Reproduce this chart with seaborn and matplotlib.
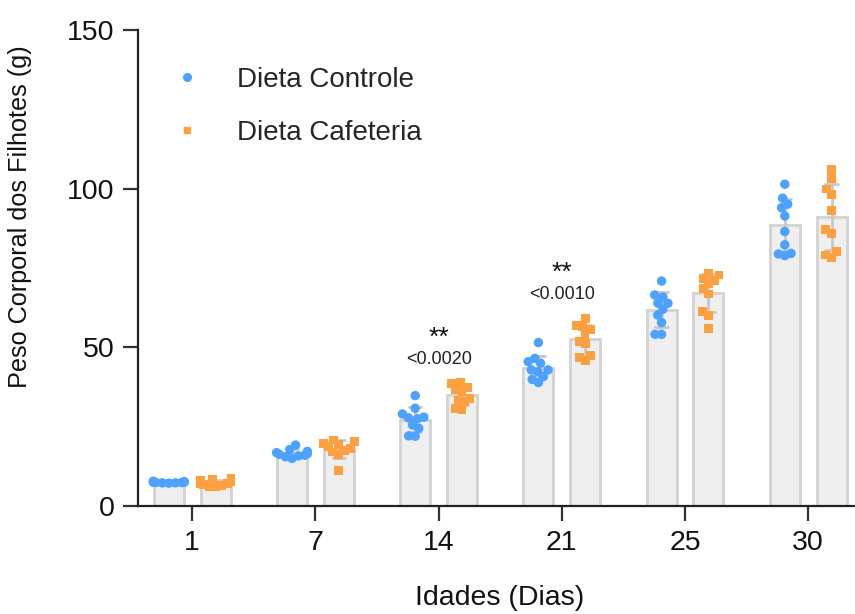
import numpy as np
import pandas as pd
import matplotlib
matplotlib.use('Agg')
import matplotlib.pyplot as plt
from matplotlib.lines import Line2D
import seaborn as sns

# --- Data ---
dias = ['1', '7', '14', '21', '25', '30']
grupos = ['Dieta Controle', 'Dieta Cafeteria']

controle = [
    [7.8, 7.6, 7.5, 7.4, 7.3, 7.2, 7.5, 7.7, 7.4, 7.3],
    [19.2, 17.8, 17.2, 16.8, 16.5, 16.3, 16.0, 15.8, 15.5, 15.0],
    [34.8, 30.8, 29.0, 28.0, 27.8, 27.5, 25.5, 24.5, 22.1, 22.0],
    [51.5, 46.5, 45.5, 45.0, 42.9, 42.9, 42.3, 40.8, 39.9, 38.9],
    [70.9, 66.5, 65.8, 63.9, 63.9, 62.0, 60.2, 57.8, 54.1, 54.1],
    [101.4, 97.0, 95.1, 94.0, 91.4, 86.5, 82.3, 78.9, 79.6, 79.4],
]
cafeteria = [
    [8.8, 8.5, 8.0, 7.8, 7.2, 7.0, 6.8, 6.5, 6.2, 6.0],
    [20.8, 20.2, 19.8, 19.3, 18.8, 18.2, 17.6, 17.0, 16.2, 11.1],
    [38.9, 38.5, 37.4, 36.6, 36.2, 34.0, 33.4, 32.9, 30.8, 30.3],
    [59.2, 57.0, 56.5, 55.5, 53.9, 51.8, 51.1, 47.3, 46.9, 45.8],
    [73.3, 72.8, 71.0, 70.2, 71.8, 68.4, 66.8, 61.2, 59.9, 56.0],
    [106.1, 103.3, 99.9, 98.3, 93.0, 87.0, 85.9, 78.4, 80.2, 79.1],
]

# significance annotations
anot_dias = ['14', '21']
anot_p = ['<0.0020', '<0.0010']
anot_y = [53.0, 73.5]

cor_controle = '#4DA1FF'
cor_cafeteria = '#FFA040'


def build_df():
    rows = []
    for i, d in enumerate(dias):
        for v in controle[i]:
            rows.append({'Idade': d, 'Peso': v, 'Dieta': grupos[0]})
        for v in cafeteria[i]:
            rows.append({'Idade': d, 'Peso': v, 'Dieta': grupos[1]})
    return pd.DataFrame(rows)


df = build_df()

sns.set_style('ticks')
plt.rcParams['font.family'] = ['Liberation Sans', 'DejaVu Sans']

fig = plt.figure(figsize=(8.55, 6.14), dpi=100)
ax = fig.add_axes([138 / 855, 108 / 614, 717 / 855, 476 / 614])

# Bars with SD error bars
sns.barplot(
    data=df, x='Idade', y='Peso', hue='Dieta', order=dias, hue_order=grupos,
    palette={g: '#EFEFEF' for g in grupos}, saturation=1,
    edgecolor='#D2D2D2', linewidth=2, width=0.76, gap=0.36,
    errorbar='sd', capsize=0.2,
    err_kws={'color': '#C8C8C8', 'linewidth': 2},
    legend=False, ax=ax,
)

n_before = len(ax.collections)

# Individual points (one call per group so each gets its own marker)
pal = {grupos[0]: cor_controle, grupos[1]: cor_cafeteria}
sns.swarmplot(
    data=df[df['Dieta'] == grupos[0]], x='Idade', y='Peso', hue='Dieta',
    order=dias, hue_order=grupos, dodge=True, palette=pal,
    marker='o', size=6.8, linewidth=0, legend=False, zorder=3, ax=ax,
    warn_thresh=1,
)
sns.swarmplot(
    data=df[df['Dieta'] == grupos[1]], x='Idade', y='Peso', hue='Dieta',
    order=dias, hue_order=grupos, dodge=True, palette=pal,
    marker='s', size=6.4, linewidth=0, legend=False, zorder=3, ax=ax,
    warn_thresh=1,
)

ax.set_ylim(0, 150)
ax.set_xlim(-0.44, 5.38)

# Swarm positions are computed at draw time; squeeze them so dense
# groups overlap inside the bar like the original (GraphPad style)
fig.canvas.draw()
for p in ax.collections[n_before:]:
    offs = np.array(p.get_offsets(), dtype=float)
    if len(offs) == 0:
        continue
    media = offs[:, 0].mean()
    cat = np.round(media)
    lado = np.sign(media - cat)
    centro_sns = cat + lado * 0.2
    novo_c = cat + lado * 0.19
    desvio = np.clip((offs[:, 0] - centro_sns) * 0.66, -0.125, 0.125)
    offs[:, 0] = novo_c + desvio
    p.set_offsets(offs)
    # freeze positions: back to the normal PathCollection draw
    if 'draw' in p.__dict__:
        del p.draw

# Significance marks
for d, p, y in zip(anot_dias, anot_p, anot_y):
    xi = dias.index(d)
    ax.text(xi, y, '**', ha='center', va='center', fontsize=19, color='#111111')
    ax.text(xi, y - 6.8, p, ha='center', va='center', fontsize=13, color='#222222')

ax.set_yticks([0, 50, 100, 150])
sns.despine(ax=ax)
for s in ['left', 'bottom']:
    ax.spines[s].set_linewidth(1.6)
    ax.spines[s].set_color('#222222')
ax.tick_params(axis='both', length=11, width=1.6, color='#333333',
               labelsize=20.5, pad=6, labelcolor='#111111')

ax.set_xlabel('Idades (Dias)', fontsize=20.5, color='#111111')
ax.set_ylabel('Peso Corporal dos Filhotes (g)', fontsize=18.2, color='#111111')
ax.xaxis.set_label_coords(0.505, -0.166)
ax.xaxis.label.set_va('top')
ax.yaxis.set_label_coords(-0.148, 0.607)

# Legend
handles = [
    Line2D([], [], marker='o', linestyle='none', color=cor_controle, markersize=5.5),
    Line2D([], [], marker='s', linestyle='none', color=cor_cafeteria, markersize=5.0),
]
ax.legend(handles, grupos, loc='upper left', frameon=False, fontsize=20,
          bbox_to_anchor=(173 / 855, (614 - 67) / 614),
          bbox_transform=fig.transFigure, borderpad=0, borderaxespad=0,
          handlelength=1.0, handletextpad=1.3, labelspacing=0.96)

fig.savefig('out.png', dpi=100)
